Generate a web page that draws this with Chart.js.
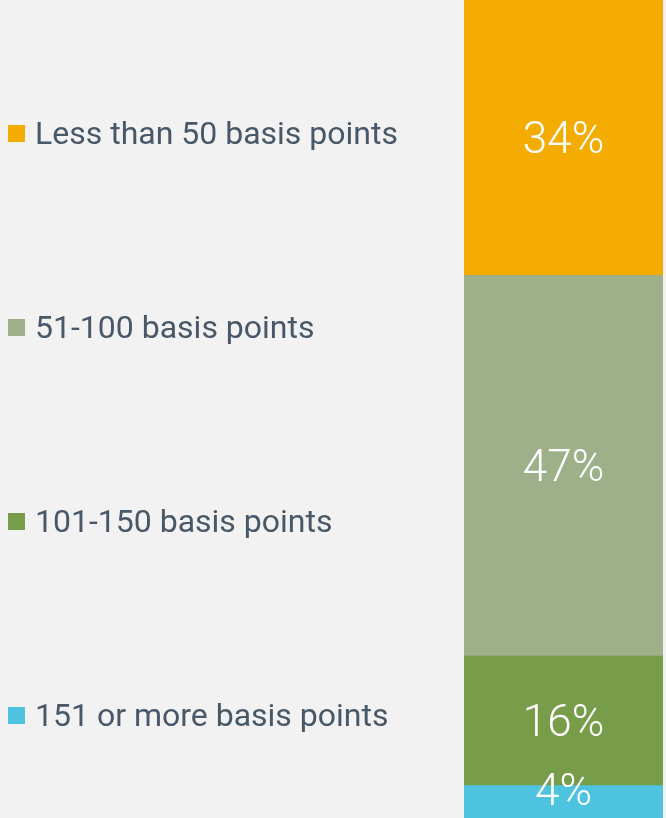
<!DOCTYPE html>
<html>
<head>
<meta charset="utf-8">
<script src="https://cdn.jsdelivr.net/npm/chart.js@4/dist/chart.umd.min.js"></script>
<style>
  html, body { margin: 0; padding: 0; background: #f2f2f2; }
  #wrap { position: relative; width: 666px; height: 818px; }
  #legend { position: absolute; left: 0; top: 0; width: 460px; height: 818px; font-family: Roboto, "Liberation Sans", sans-serif; }
  .item { position: absolute; left: 8px; display: flex; align-items: center; color: #485868; font-size: 32px; white-space: nowrap; }
  .box { width: 17px; height: 17px; margin-right: 10px; }
</style>
</head>
<body>
<div id="wrap">
  <canvas id="chart" width="666" height="818"></canvas>
  <div id="legend"></div>
</div>
<script>
// categories, top to bottom as drawn in the bar
const categories = ['Less than 50 basis points', '51-100 basis points', '101-150 basis points', '151 or more basis points'];
const shares = [34, 47, 16, 4];
const colors = ['#f4ac00', '#9eb08a', '#789d4a', '#4ec3e0'];
const legendY = [133, 327, 521, 715];

// legend on the left
const legend = document.getElementById('legend');
categories.forEach((name, i) => {
    const el = document.createElement('div');
    el.className = 'item';
    el.style.top = (legendY[i] - 19) + 'px';
    el.innerHTML = '<span class="box" style="background:' + colors[i] + '"></span>' + name;
    legend.appendChild(el);
});

// white % labels in the middle of each segment
const segmentLabels = {
    id: 'segmentLabels',
    afterDatasetsDraw(chart) {
        const ctx = chart.ctx;
        const bottom = chart.chartArea.bottom;
        ctx.save();
        ctx.fillStyle = '#ffffff';
        ctx.font = '300 44px Roboto, "Liberation Sans", sans-serif';
        ctx.textAlign = 'center';
        ctx.textBaseline = 'middle';
        chart.data.datasets.forEach((ds, i) => {
            const bar = chart.getDatasetMeta(i).data[0];
            const mid = (bar.y + bar.base) / 2 + 4;
            const y = Math.min(mid, bottom - 24);
            ctx.fillText(ds.data[0] + '%', bar.x, y);
        });
        ctx.restore();
    }
};

// stacked bottom-up, so reverse the order
const datasets = categories.map((name, i) => ({
    label: name,
    data: [shares[i]],
    backgroundColor: colors[i],
    borderWidth: 0
})).reverse();

new Chart(document.getElementById('chart'), {
    type: 'bar',
    data: { labels: [''], datasets: datasets },
    options: {
        responsive: false,
        animation: false,
        layout: { padding: { left: 464, right: 3, top: 0, bottom: 0 } },
        plugins: { legend: { display: false }, tooltip: { enabled: false } },
        scales: {
            x: { stacked: true, display: false },
            y: { stacked: true, display: false, min: 0, max: 101 }
        },
        datasets: { bar: { barPercentage: 1, categoryPercentage: 1 } }
    },
    plugins: [segmentLabels]
});
</script>
</body>
</html>
